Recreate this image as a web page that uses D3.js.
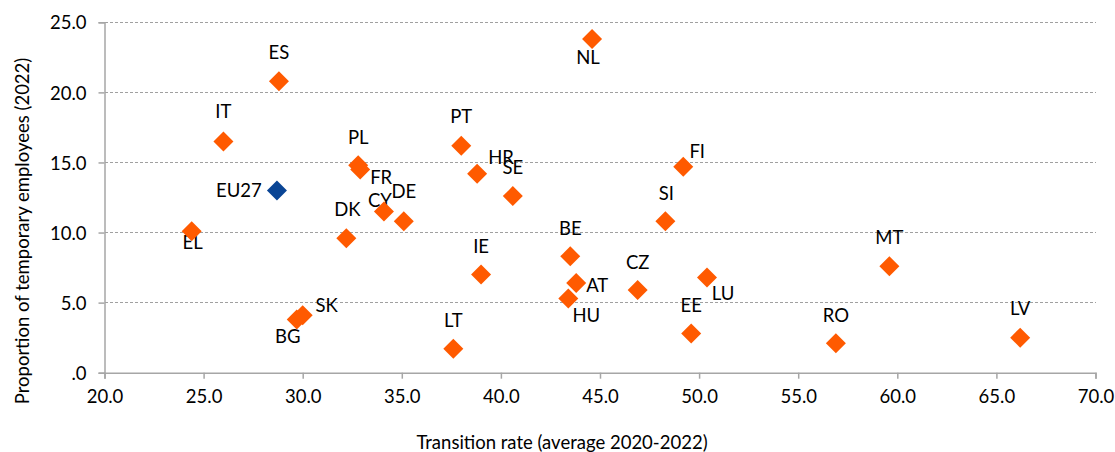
<!DOCTYPE html>
<html>
<head>
<meta charset="utf-8">
<script src="https://cdn.jsdelivr.net/npm/d3@7"></script>
<style>
  html, body { margin: 0; padding: 0; background: #fff; }
  svg { display: block; }
  text { font-family: Lato, "Noto Sans", sans-serif; fill: #000; }
</style>
</head>
<body>
<svg id="chart" width="1115" height="452"></svg>
<script>
// ---- data ----
const countries = ["ES","IT","EU27","EL","PL","FR","CY","DE","DK","BG","SK","PT","HR","SE","NL","FI","SI","IE","BE","AT","HU","CZ","LU","EE","LT","MT","RO","LV"];
const transitionRate = [28.8,26.0,28.7,24.4,32.8,32.9,34.1,35.1,32.2,29.7,30.0,38.0,38.8,40.6,44.6,49.2,48.3,39.0,43.5,43.8,43.4,46.9,50.4,49.6,37.6,59.6,56.9,66.2];
const temporaryShare = [20.8,16.5,13.0,10.1,14.8,14.5,11.5,10.8,9.6,3.8,4.1,16.2,14.2,12.6,23.8,14.7,10.8,7.0,8.3,6.4,5.3,5.9,6.8,2.8,1.7,7.6,2.1,2.5];
const xTicks = [20,25,30,35,40,45,50,55,60,65,70];
const yTicks = [0,5,10,15,20,25];
const xTitle = "Transition rate (average 2020-2022)";
const yTitle = "Proportion of temporary employees (2022)";

// label placement (pixel offsets of label centre from marker centre)
const labelOffsets = {
  ES:[0,-29], IT:[0,-30], EU27:[-38,0], EL:[1,11], PL:[0,-28], FR:[21,8],
  CY:[-4,-11], DE:[0,-30], DK:[1,-29], BG:[-9,17], SK:[24,-10], PT:[0,-29],
  HR:[24,-16], SE:[0,-29], NL:[-4,18], FI:[14,-15], SI:[1,-28], IE:[0,-28],
  BE:[0,-28], AT:[21,2], HU:[18,17], CZ:[0,-28], LU:[16,16], EE:[0,-28],
  LT:[0,-29], MT:[0,-29], RO:[0,-28], LV:[0,-29]
};

const points = countries.map((c,i) => ({c, x: transitionRate[i], y: temporaryShare[i]}));

// ---- layout ----
const svg = d3.select("#chart");
const W = 1115, H = 452;
const m = {left: 104.5, right: W - 1095.5, top: 22.3, bottom: H - 372.7};
const x = d3.scaleLinear().domain([20,70]).range([m.left, W - m.right]);
const y = d3.scaleLinear().domain([0,25]).range([H - m.bottom, m.top]);

const axisColor = "#a6a6a6";
const fs = "18.5px";
const fmt = v => v === 0 ? ".0" : d3.format(".1f")(v);

// gridlines
svg.append("g").selectAll("line").data(yTicks.filter(d => d > 0)).join("line")
  .attr("x1", x(20)).attr("x2", x(70))
  .attr("y1", d => y(d)).attr("y2", d => y(d))
  .attr("stroke", "#a0a0a0").attr("stroke-width", 1)
  .attr("stroke-dasharray", "3,2").attr("shape-rendering", "crispEdges");

// axes
const xAxis = svg.append("g").attr("transform", `translate(0,${y(0)})`)
  .call(d3.axisBottom(x).tickValues(xTicks).tickFormat(fmt).tickSize(6).tickPadding(11));
const yAxis = svg.append("g").attr("transform", `translate(${x(20)},0)`)
  .call(d3.axisLeft(y).tickValues(yTicks).tickFormat(fmt).tickSize(6).tickPadding(12));
[xAxis, yAxis].forEach(g => {
  g.select(".domain").attr("stroke", axisColor).attr("stroke-width", 1.5);
  g.selectAll(".tick line").attr("stroke", axisColor).attr("stroke-width", 1.5);
  g.selectAll(".tick text").style("font-family", "Lato, 'Noto Sans', sans-serif")
    .style("font-size", fs).attr("fill", "#000");
});
yAxis.selectAll(".tick text").attr("dy", "0.36em");

// axis titles
svg.append("text").attr("x", 562).attr("y", 449).attr("text-anchor", "middle")
  .style("font-size", fs).text(xTitle);
svg.append("text").attr("transform", `translate(29,231) rotate(-90)`)
  .attr("text-anchor", "middle").style("font-size", fs).text(yTitle);

// labels (drawn beneath markers)
svg.append("g").selectAll("text").data(points).join("text")
  .attr("x", d => x(d.x) + labelOffsets[d.c][0])
  .attr("y", d => y(d.y) + labelOffsets[d.c][1])
  .attr("dy", "0.36em").attr("text-anchor", "middle")
  .style("font-size", fs).text(d => d.c);

// markers
const diamond = d3.symbol(d3.symbolSquare, 200);
svg.append("g").selectAll("path").data(points).join("path")
  .attr("d", diamond)
  .attr("transform", d => `translate(${x(d.x)},${y(d.y)}) rotate(45)`)
  .attr("fill", d => d.c === "EU27" ? "#0a4595" : "#ff5a00");
</script>
</body>
</html>
